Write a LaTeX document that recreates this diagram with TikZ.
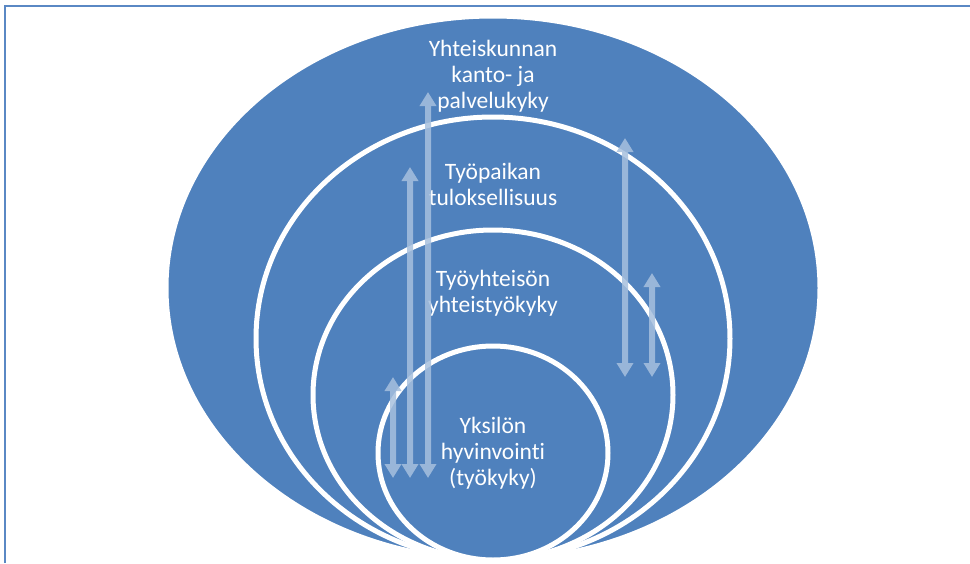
\documentclass[tikz,border=0pt]{standalone}
\usepackage{fontspec}
\setmainfont{Carlito}[Ligatures=NoCommon]
\usetikzlibrary{shapes.geometric,arrows.meta}
\definecolor{ringblue}{HTML}{4F81BD}
\definecolor{arrowblue}{HTML}{A7C0DE}
\definecolor{framecol}{HTML}{5A88C4}
\begin{document}
\begin{tikzpicture}[x=1pt,y=-1pt,
  ring/.style={ellipse, draw=white, line width=5pt, fill=ringblue,
    inner sep=0pt, outer sep=0pt},
  caption/.style={text=white, align=center, inner sep=0pt,
    font=\fontsize{23.5}{26}\selectfont},
  updown/.style={draw=arrowblue, line width=6pt,
    {Triangle[width=16pt,length=14pt]}-{Triangle[width=16pt,length=14pt]}}
]
\useasboundingbox (0,0) rectangle (970,563);

% frame edges
\draw[framecol, line width=2pt] (5,563) -- (5,6) -- (970,6);

% nested ellipses, all touching at the bottom
\node[ring, minimum width=654pt, minimum height=544pt] (society)   at (493,288) {};
\node[ring, minimum width=474pt, minimum height=443pt] (workplace) at (493,338.5) {};
\node[ring, minimum width=360pt, minimum height=330pt] (community) at (493,395) {};
\node[ring, minimum width=230pt, minimum height=214pt] (person)    at (493,453) {};

% labels
\node[caption] (lsociety)   at (493,76)  {Yhteiskunnan\\kanto- ja\\palvelukyky};
\node[caption] (lworkplace) at (493,184.5) {Työpaikan\\tuloksellisuus};
\node[caption] (lcommunity) at (493,293) {Työyhteisön\\yhteistyökyky};
\node[caption] (lperson)    at (493,453.5) {Yksilön\\hyvinvointi\\(työkyky)};

% two-way arrows between the levels
\coordinate (a1t) at (428,92);  \coordinate (a1b) at (428,478);
\coordinate (a2t) at (410,167); \coordinate (a2b) at (410,478);
\coordinate (a3t) at (393,377); \coordinate (a3b) at (393,478);
\coordinate (a4t) at (625,138); \coordinate (a4b) at (625,377);
\coordinate (a5t) at (652,273); \coordinate (a5b) at (652,377);
\begin{scope}[transparency group, opacity=0.85]
  \draw[updown] (a1b) -- (a1t);
  \draw[updown] (a2b) -- (a2t);
  \draw[updown] (a3b) -- (a3t);
  \draw[updown] (a4b) -- (a4t);
  \draw[updown] (a5b) -- (a5t);
\end{scope}
\end{tikzpicture}
\end{document}
